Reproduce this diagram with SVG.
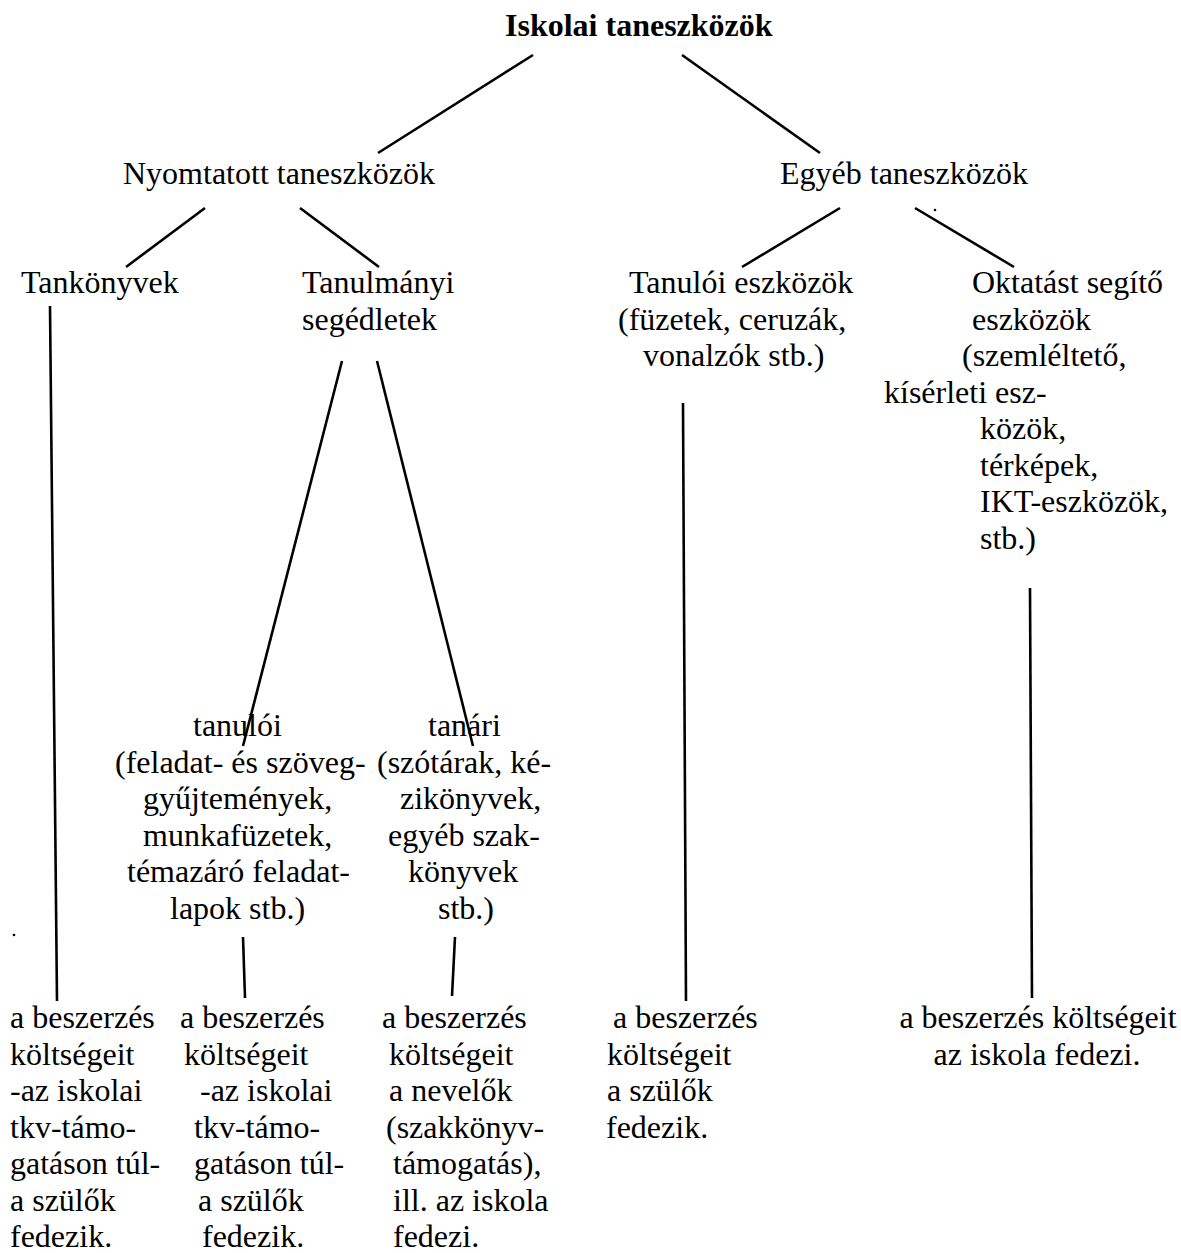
<svg xmlns="http://www.w3.org/2000/svg" width="1181" height="1253" viewBox="0 0 1181 1253">
<style>
text{font-family:"Liberation Serif","Times New Roman",serif;font-size:32px;fill:#000}
.b{font-weight:bold}
.c line{stroke:#000;stroke-width:2.6;stroke-linecap:butt}
</style>
<rect width="1181" height="1253" fill="#fff"/>
<g id="n-root"><text class="b" x="505" y="36">Iskolai taneszközök</text></g>
<g id="n-nyomtatott"><text x="123" y="184">Nyomtatott taneszközök</text></g>
<g id="n-egyeb"><text x="780" y="184">Egyéb taneszközök</text></g>
<g id="n-tankonyvek"><text x="21" y="293">Tankönyvek</text></g>
<g id="n-segedletek"><text x="302" y="293">Tanulmányi</text><text x="302" y="329.5">segédletek</text></g>
<g id="n-tanuloi-eszk"><text x="629" y="293">Tanulói eszközök</text><text x="618" y="329.5">(füzetek, ceruzák,</text><text x="643" y="366">vonalzók stb.)</text></g>
<g id="n-oktatast"><text x="972" y="293">Oktatást segítő</text><text x="972" y="329.5">eszközök</text><text x="962" y="366">(szemléltető,</text><text x="884" y="402.5">kísérleti esz-</text><text x="980" y="439">közök,</text><text x="980" y="475.5">térképek,</text><text x="980" y="512">IKT-eszközök,</text><text x="980" y="548.5">stb.)</text></g>
<g id="n-tanuloi"><text x="193" y="736">tanulói</text><text x="115" y="772.5">(feladat- és szöveg-</text><text x="143" y="809">gyűjtemények,</text><text x="143" y="845.5">munkafüzetek,</text><text x="127" y="882">témazáró feladat-</text><text x="170" y="918.5">lapok stb.)</text></g>
<g id="n-tanari"><text x="428" y="736">tanári</text><text x="377" y="772.5">(szótárak, ké-</text><text x="400" y="809">zikönyvek,</text><text x="388" y="845.5">egyéb szak-</text><text x="408" y="882">könyvek</text><text x="438" y="918.5">stb.)</text></g>
<g id="n-cost1"><text x="10" y="1028">a beszerzés</text><text x="10" y="1064.5">költségeit</text><text x="10" y="1101">-az iskolai</text><text x="10" y="1137.5">tkv-támo-</text><text x="10" y="1174">gatáson túl-</text><text x="10" y="1210.5">a szülők</text><text x="10" y="1247">fedezik.</text></g>
<g id="n-cost2"><text x="180" y="1028">a beszerzés</text><text x="184" y="1064.5">költségeit</text><text x="200" y="1101">-az iskolai</text><text x="194" y="1137.5">tkv-támo-</text><text x="194" y="1174">gatáson túl-</text><text x="198" y="1210.5">a szülők</text><text x="202" y="1247">fedezik.</text></g>
<g id="n-cost3"><text x="382" y="1028">a beszerzés</text><text x="389" y="1064.5">költségeit</text><text x="389" y="1101">a nevelők</text><text x="386" y="1137.5">(szakkönyv-</text><text x="393" y="1174">támogatás),</text><text x="393" y="1210.5">ill. az iskola</text><text x="393" y="1247">fedezi.</text></g>
<g id="n-cost4"><text x="613" y="1028">a beszerzés</text><text x="607" y="1064.5">költségeit</text><text x="607" y="1101">a szülők</text><text x="606" y="1137.5">fedezik.</text></g>
<g id="n-cost5"><text x="1038" y="1028" text-anchor="middle">a beszerzés költségeit</text><text x="1037" y="1064.5" text-anchor="middle">az iskola fedezi.</text></g>
<g id="connectors" class="c">
<line x1="533" y1="55" x2="378" y2="153"/>
<line x1="682" y1="55" x2="820" y2="153"/>
<line x1="205" y1="208" x2="126" y2="267"/>
<line x1="300" y1="208" x2="379" y2="267"/>
<line x1="840" y1="208" x2="742" y2="267"/>
<line x1="915" y1="208" x2="1014" y2="267"/>
<line x1="50" y1="306" x2="57" y2="1001"/>
<line x1="342" y1="361" x2="243" y2="746"/>
<line x1="377" y1="361" x2="473" y2="746"/>
<line x1="243" y1="937" x2="245" y2="998"/>
<line x1="455" y1="937" x2="452" y2="996"/>
<line x1="683" y1="403" x2="686" y2="1001"/>
<line x1="1030" y1="588" x2="1032" y2="998"/>
</g>
<g id="dots"><circle cx="935" cy="210" r="1.3" fill="#000"/><circle cx="14" cy="935" r="1.3" fill="#000"/></g>
</svg>
